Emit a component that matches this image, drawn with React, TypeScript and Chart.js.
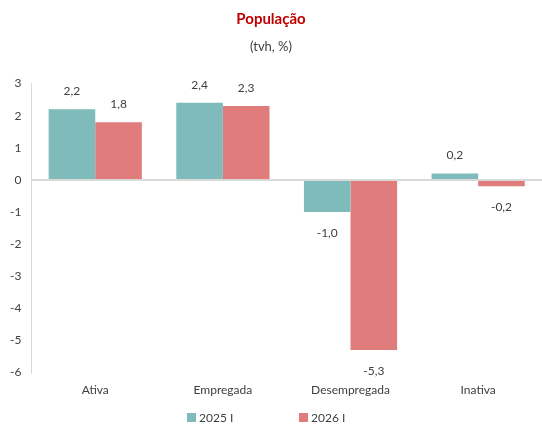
import React, { useEffect, useRef } from "react";
import { Chart, registerables } from "chart.js";

Chart.register(...registerables);

const categories = ["Ativa", "Empregada", "Desempregada", "Inativa"];
const series2025 = [2.2, 2.4, -1.0, 0.2];
const series2026 = [1.8, 2.3, -5.3, -0.2];
const seriesLabels = ["2025 I", "2026 I"];
const seriesColors = ["#7EBBBA", "#E07C7B"];
const yTicks = [3, 2, 1, 0, -1, -2, -3, -4, -5, -6];

const FONT = "Lato, 'Liberation Sans', sans-serif";
const TEXT = "#404040";

const labelPlugin = {
  id: "valueLabels",
  afterDatasetsDraw(chart: any) {
    const ctx = chart.ctx;
    ctx.save();
    ctx.font = `12px ${FONT}`;
    ctx.fillStyle = TEXT;
    ctx.textAlign = "center";
    ctx.textBaseline = "middle";
    chart.data.datasets.forEach((ds: any, i: number) => {
      const meta = chart.getDatasetMeta(i);
      meta.data.forEach((bar: any, j: number) => {
        const v = ds.data[j];
        const txt = v.toFixed(1).replace(".", ",");
        const y = v >= 0 ? bar.y - 18 : bar.y + 21;
        ctx.fillText(txt, bar.x, y);
      });
    });
    ctx.restore();
  },
};

const legendPlugin = {
  id: "customLegend",
  afterDraw(chart: any) {
    const ctx = chart.ctx;
    ctx.save();
    ctx.font = `12px ${FONT}`;
    ctx.textBaseline = "middle";
    ctx.textAlign = "left";
    const y = 418;
    const starts = [187, 299];
    chart.data.datasets.forEach((ds: any, i: number) => {
      const x = starts[i];
      ctx.fillStyle = ds.backgroundColor;
      ctx.fillRect(x, y - 5, 9, 9);
      ctx.fillStyle = TEXT;
      ctx.fillText(ds.label, x + 12, y);
    });
    ctx.restore();
  },
};

export default function App() {
  const ref = useRef<HTMLCanvasElement>(null);
  useEffect(() => {
    if (!ref.current) return;
    const chart = new Chart(ref.current, {
      type: "bar",
      data: {
        labels: categories,
        datasets: [
          {
            label: seriesLabels[0],
            data: series2025,
            backgroundColor: seriesColors[0],
            categoryPercentage: 0.73,
            barPercentage: 1,
          },
          {
            label: seriesLabels[1],
            data: series2026,
            backgroundColor: seriesColors[1],
            categoryPercentage: 0.73,
            barPercentage: 1,
          },
        ],
      },
      options: {
        responsive: false,
        animation: false,
        layout: { padding: { left: 0, right: 0, top: 0, bottom: 28 } },
        plugins: {
          title: {
            display: true,
            text: "População",
            color: "#C00000",
            font: { family: FONT, size: 15, weight: "bold" },
            padding: { top: 10, bottom: 11 },
          },
          subtitle: {
            display: true,
            text: "(tvh, %)",
            color: TEXT,
            font: { family: FONT, size: 13 },
            padding: { top: 0, bottom: 29 },
          },
          legend: { display: false },
          tooltip: { enabled: false },
        },
        scales: {
          x: {
            grid: { display: false },
            border: { display: false },
            ticks: { color: TEXT, font: { family: FONT, size: 12 }, padding: 2 },
          },
          y: {
            min: -6,
            max: 3,
            afterBuildTicks(scale: any) {
              scale.ticks = yTicks.map((v) => ({ value: v }));
            },
            grid: {
              color: (c: any) => (c.tick && c.tick.value === 0 ? "#D9D9D9" : "rgba(0,0,0,0)"),
              lineWidth: 2,
              drawTicks: false,
            },
            border: { display: true, color: "#D9D9D9", width: 1 },
            ticks: {
              color: TEXT,
              font: { family: FONT, size: 12 },
              padding: 10,
              callback: (v: any) => String(v),
            },
          },
        },
      },
      plugins: [labelPlugin, legendPlugin],
    } as any);
    return () => chart.destroy();
  }, []);
  return (
    <div style={{ position: "fixed", left: 0, top: 0, width: 542, height: 427, background: "#fff" }}>
      <canvas ref={ref} width={542} height={427} />
    </div>
  );
}
